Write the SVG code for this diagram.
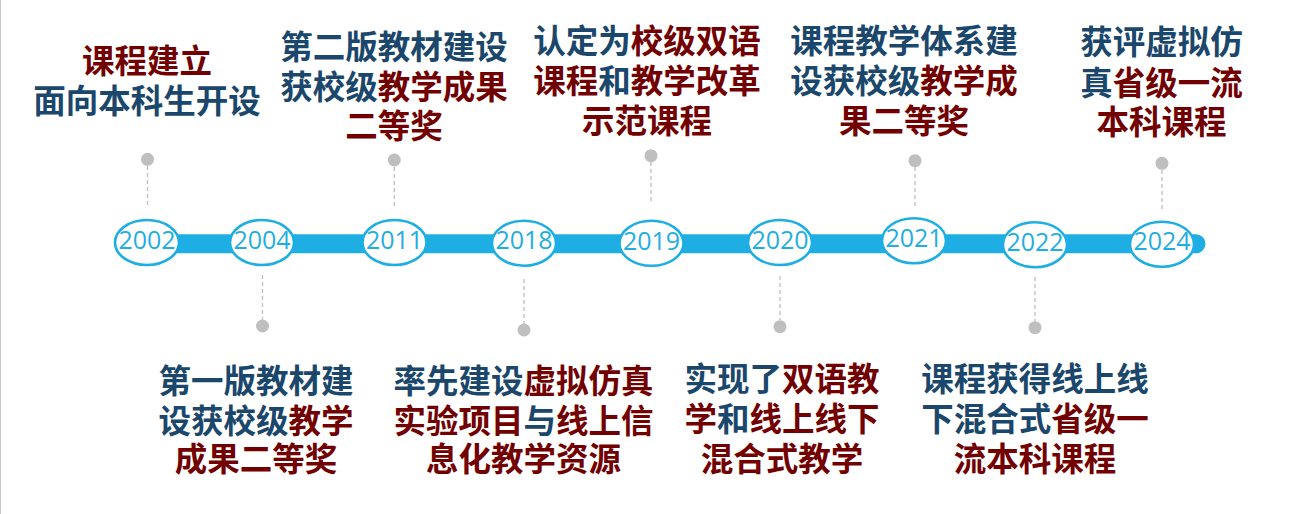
<svg xmlns="http://www.w3.org/2000/svg" width="1306" height="514" viewBox="0 0 1306 514">
<style>
.t{font-family:"Noto Sans CJK SC","Microsoft YaHei",sans-serif;font-weight:700;font-size:32.5px;text-anchor:middle;fill:#1A476B}
.r{fill:#720000}
.b{fill:#1A476B}
.yr{font-family:"Open Sans","Liberation Sans",sans-serif;font-size:25px;text-anchor:middle;fill:#1FAEE3}
.ell{fill:#fff;stroke:#1FAEE3;stroke-width:2.6}
.dot{fill:#BFBFBF}
.dash{stroke:#BFBFBF;stroke-width:1.3;stroke-dasharray:4 3;fill:none}
</style>
<rect width="1306" height="514" fill="#fff"/>
<line x1="0.5" y1="0" x2="0.5" y2="514" stroke="#C8C8C8" stroke-width="1"/>
<g id="connectors">
<line id="bar" x1="147" y1="243.8" x2="1196" y2="243.8" stroke="#1FAEE3" stroke-width="19" stroke-linecap="round"/>
<line class="dash" x1="147.5" y1="166" x2="147.5" y2="205"/>
<line class="dash" x1="394.3" y1="167" x2="394.3" y2="206"/>
<line class="dash" x1="651" y1="162" x2="651" y2="202"/>
<line class="dash" x1="915" y1="167" x2="915" y2="206"/>
<line class="dash" x1="1162" y1="170" x2="1162" y2="209"/>
<line class="dash" x1="262.5" y1="275" x2="262.5" y2="320"/>
<line class="dash" x1="524" y1="279" x2="524" y2="324"/>
<line class="dash" x1="780" y1="276" x2="780" y2="320"/>
<line class="dash" x1="1035" y1="277" x2="1035" y2="321"/>
</g>
<g id="dots">
<circle class="dot" cx="147.5" cy="159.3" r="6.5"/>
<circle class="dot" cx="394.3" cy="160" r="6.5"/>
<circle class="dot" cx="651" cy="155.7" r="6.5"/>
<circle class="dot" cx="915" cy="160.7" r="6.5"/>
<circle class="dot" cx="1162" cy="163.3" r="6.5"/>
<circle class="dot" cx="262.5" cy="326" r="6.5"/>
<circle class="dot" cx="524" cy="330" r="6.5"/>
<circle class="dot" cx="780" cy="326.7" r="6.5"/>
<circle class="dot" cx="1035" cy="327.7" r="6.5"/>
</g>
<g id="y2002"><ellipse class="ell" cx="147" cy="242.5" rx="32" ry="22.5"/><text class="yr" x="147" y="248.7">2002</text></g>
<g id="y2004"><ellipse class="ell" cx="262" cy="242.5" rx="32" ry="22.5"/><text class="yr" x="262" y="248.7">2004</text></g>
<g id="y2011"><ellipse class="ell" cx="394.5" cy="242.5" rx="32" ry="22.5"/><text class="yr" x="394.5" y="248.7">2011</text></g>
<g id="y2018"><ellipse class="ell" cx="524" cy="243.2" rx="32" ry="22.5"/><text class="yr" x="524" y="249.4">2018</text></g>
<g id="y2019"><ellipse class="ell" cx="651.5" cy="243.3" rx="32" ry="22.5"/><text class="yr" x="651.5" y="249.5">2019</text></g>
<g id="y2020"><ellipse class="ell" cx="780" cy="242.5" rx="32" ry="22.5"/><text class="yr" x="780" y="248.7">2020</text></g>
<g id="y2021"><ellipse class="ell" cx="914" cy="240.7" rx="32" ry="22.5"/><text class="yr" x="914" y="246.9">2021</text></g>
<g id="y2022"><ellipse class="ell" cx="1035" cy="244.7" rx="32" ry="22.5"/><text class="yr" x="1035" y="250.9">2022</text></g>
<g id="y2024"><ellipse class="ell" cx="1162" cy="244.2" rx="32" ry="22.5"/><text class="yr" x="1162" y="250.4">2024</text></g>

<g id="n2002">
<text class="t r" x="147" y="72.5">课程建立</text>
<text class="t" x="147" y="112.5">面向本科生开设</text>
</g>
<g id="n2011">
<text class="t" x="394" y="59">第二版教材建设</text>
<text class="t" x="394" y="99">获校级<tspan class="r">教学成果</tspan></text>
<text class="t r" x="394" y="137.5">二等奖</text>
</g>
<g id="n2019">
<text class="t" x="647" y="52.5">认定为<tspan class="r">校级双语</tspan></text>
<text class="t r" x="647" y="92.5">课程<tspan class="b">和</tspan>教学改革</text>
<text class="t r" x="647" y="132.5">示范课程</text>
</g>
<g id="n2021">
<text class="t" x="904" y="52.5">课程教学体系建</text>
<text class="t" x="904" y="92.5">设获校级<tspan class="r">教学成</tspan></text>
<text class="t r" x="904" y="132.5">果二等奖</text>
</g>
<g id="n2024">
<text class="t" x="1161.5" y="54">获评虚拟仿</text>
<text class="t" x="1161.5" y="95">真<tspan class="r">省级一流</tspan></text>
<text class="t r" x="1161.5" y="134">本科课程</text>
</g>
<g id="n2004">
<text class="t" x="256" y="392.5">第一版教材建</text>
<text class="t" x="256" y="432.5">设获校级<tspan class="r">教学</tspan></text>
<text class="t r" x="256" y="470.5">成果二等奖</text>
</g>
<g id="n2018">
<text class="t" x="523.5" y="392.5">率先建设<tspan class="r">虚拟仿真</tspan></text>
<text class="t r" x="523.5" y="432.5">实验项目<tspan class="b">与</tspan>线上信</text>
<text class="t r" x="523.5" y="470.5">息化教学资源</text>
</g>
<g id="n2020">
<text class="t" x="782" y="390.5">实现了<tspan class="r">双语教</tspan></text>
<text class="t r" x="782" y="430.5">学<tspan class="b">和</tspan>线上线下</text>
<text class="t r" x="782" y="470.5">混合式教学</text>
</g>
<g id="n2022">
<text class="t" x="1035" y="390.5">课程获得线上线</text>
<text class="t" x="1035" y="430.5">下混合式<tspan class="r">省级一</tspan></text>
<text class="t r" x="1035" y="470.5">流本科课程</text>
</g>
</svg>
